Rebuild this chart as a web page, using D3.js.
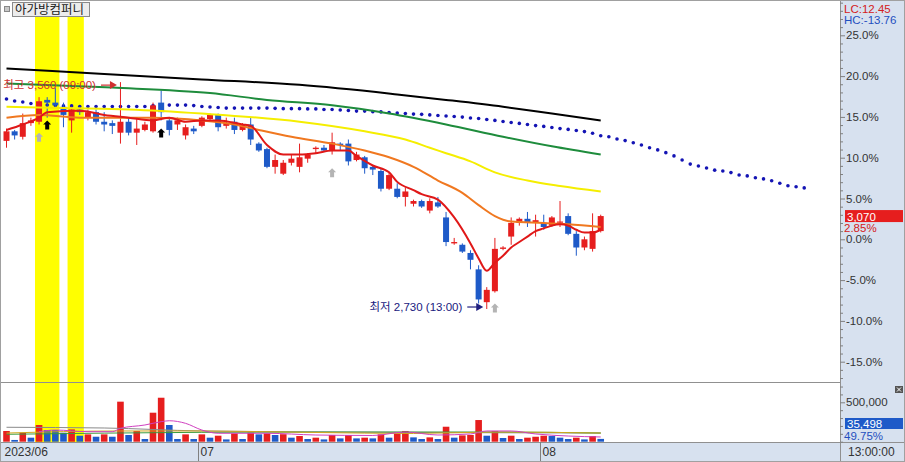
<!DOCTYPE html>
<html><head><meta charset="utf-8">
<script src="https://cdn.jsdelivr.net/npm/d3@7"></script>
<style>body{margin:0;background:#fff}svg{display:block}</style>
</head><body><svg id="c" width="905" height="462"></svg>
<script>
// ---------- data ----------
const stockName = "아가방컴퍼니";
const basePrice = 2985;
const openP  = [3345,3380,3360,3410,3415,3495,3485,3470,3420,3460,3430,3450,3415,3410,3375,3415,3375,3385,3380,3485,3420,3405,3365,3390,3400,3425,3440,3400,3415,3385,3405,3335,3315,3250,3225,3265,3250,3280,3315,3320,3310,3335,3335,3275,3285,3250,3235,3170,3170,3140,3115,3125,3090,3120,3065,2970,2965,2935,2875,2755,2795,2950,2995,3045,3060,3045,3045,3035,3050,3070,3005,2955,2950,3015];
const highP  = [3390,3385,3445,3430,3505,3505,3540,3485,3470,3470,3460,3460,3450,3420,3560,3430,3425,3415,3485,3530,3430,3430,3405,3400,3435,3445,3445,3430,3430,3410,3430,3340,3320,3295,3275,3295,3335,3300,3325,3330,3375,3340,3350,3305,3290,3255,3245,3230,3190,3175,3130,3130,3135,3140,3085,2990,2970,2945,2890,2810,2990,2960,3065,3065,3085,3075,3075,3070,3125,3080,3015,2995,3080,3075];
const lowP   = [3320,3350,3350,3400,3405,3430,3465,3395,3375,3440,3420,3405,3380,3370,3335,3365,3330,3380,3375,3420,3365,3385,3350,3370,3395,3420,3380,3390,3370,3380,3330,3305,3245,3225,3220,3255,3230,3265,3300,3305,3295,3310,3255,3270,3225,3220,3160,3165,3135,3105,3105,3100,3080,3100,2960,2965,2935,2875,2750,2730,2790,2945,2965,3035,3030,2995,3020,3030,3030,3000,2925,2945,2940,3010];
const closeP = [3380,3365,3410,3420,3490,3485,3475,3440,3460,3450,3450,3415,3405,3400,3415,3375,3390,3405,3475,3450,3385,3420,3395,3380,3430,3440,3395,3410,3385,3405,3350,3310,3250,3275,3265,3280,3285,3295,3320,3310,3340,3330,3270,3295,3245,3240,3170,3220,3140,3160,3125,3105,3125,3105,2975,2975,2940,2910,2765,2800,2950,2955,3045,3060,3045,3055,3030,3065,3050,3005,2955,2985,3015,3070];
const volumes = [136000,22000,114000,51000,212000,148000,146000,114000,156000,76000,93000,63000,93000,63000,508000,85000,136000,34000,368000,558000,212000,34000,93000,34000,93000,51000,76000,29000,105000,34000,114000,93000,105000,85000,95000,51000,72000,34000,51000,29000,85000,42000,85000,42000,51000,42000,93000,51000,105000,136000,55000,34000,55000,34000,190000,51000,80000,85000,275000,76000,136000,47000,76000,34000,51000,63000,76000,72000,51000,34000,51000,29000,71353,35498];
// leading span (plotted 25 bars ahead)
const leadSpan = [3498,3491,3487,3482,3478,3476,3474,3473,3473,3471,3471,3471,3471,3471,3471,3471,3471,3471,3474,3476,3476,3476,3476,3474,3471,3469,3467,3465,3465,3465,3465,3465,3465,3464,3463,3463,3463,3462,3462,3460,3460,3458,3456,3454,3454,3452,3451,3449,3447,3445,3443,3442,3440,3438,3436,3434,3432,3429,3427,3423,3420,3416,3412,3409,3405,3401,3398,3394,3390,3387,3383,3379,3373,3364,3360,3352,3346,3338,3330,3320,3312,3302,3290,3275,3260,3253,3246,3238,3235,3229,3220,3217,3210,3206,3199,3190,3181,3177,3173];
// moving averages: [bar index, price]
const ma5   = [[0,3385],[2,3405],[4,3430],[5,3450],[9,3455],[12,3440],[15,3430],[18,3420],[20,3430],[22,3415],[24,3420],[26,3420],[29,3405],[30,3400],[32,3330],[34,3295],[36,3295],[38,3300],[40,3310],[42,3310],[43,3290],[45,3255],[47,3230],[48,3195],[50,3165],[51,3150],[53,3130],[55,3065],[57,2970],[58,2915],[59,2870],[60,2900],[61,2925],[62,2955],[63,2975],[64,2995],[65,3015],[66,3025],[67,3035],[68,3040],[69,3035],[70,3020],[71,3010],[72,3010],[73,3020]];
const ma20  = [[0,3430],[4,3440],[9,3430],[18,3430],[24,3420],[28,3405],[31,3385],[35,3360],[40,3335],[44,3310],[47,3285],[50,3250],[53,3200],[56,3155],[58,3110],[60,3070],[62,3050],[66,3045],[69,3040],[73,3030]];
const ma60  = [[0,3470],[7,3465],[15,3460],[24,3445],[36,3415],[44,3380],[49,3350],[52,3320],[54,3300],[57,3270],[60,3230],[64,3200],[68,3180],[73,3160]];
const ma120 = [[0,3555],[13,3540],[25,3520],[32,3495],[40,3475],[47,3445],[54,3405],[61,3360],[67,3325],[73,3295]];
const ma240 = [[0,3610],[12,3590],[24,3570],[36,3550],[48,3515],[54,3495],[61,3470],[67,3445],[73,3420]];
// volume moving averages: [bar index, volume]
const vma5   = [[4,127000],[6,148000],[10,127000],[13,127000],[14,170000],[17,212000],[19,254000],[20,266000],[22,233000],[24,148000],[26,107000],[32,107000],[38,85000],[45,79000],[49,123000],[53,85000],[57,98000],[59,136000],[62,136000],[65,98000],[69,72000],[73,60000]];
const vma20  = [[0,110000],[14,136000],[24,136000],[38,117000],[50,104000],[60,123000],[73,110000]];
const vma60  = [[0,94000],[24,119000],[40,123000],[60,123000],[73,110000]];
const vma120 = [[0,183000],[12,174000],[24,136000],[40,123000],[73,110000]];
// highlights, signals, labels
const bandStart = [4,8], bandEnd = [6,9];
const grayArrowIdx = [4,40,60], grayArrowAt = [3375,3245,2750];
const blackArrowIdx = [5,19], blackArrowAt = [3420,3390];
const highTime = "09:00", lowTime = "13:00";
const pctTicks = [25,20,15,10,5,0,-5,-10,-15];
const volTicks = [500000];
const xLabelIdx = [0,24,66], xLabels = ["2023/06","07","08"];
const lastTime = "13:00:00";

// ---------- layout ----------
const svg = d3.select("#c");
const plotR = 840, mainTop = 2, mainBot = 382, volTop = 383, volBot = 442;
const FONT = '"Liberation Sans","Noto Sans CJK KR",Arial,sans-serif';
const n = closeP.length;
const x = d3.scaleBand().domain(d3.range(leadSpan.length)).range([2.43, 2.43 + leadSpan.length*8.14]);
const cx = i => x(i) + x.bandwidth()/2;
const y = d3.scaleLinear().domain([-15,25]).range([361.7,35.3]);
const py = p => y((p/basePrice - 1)*100);
const vy = d3.scaleLinear().domain([0,500000]).range([441.7,402.3]);
const RED = "#e61e1e", BLUE = "#1e5ac8";

// backgrounds
svg.append("rect").attr("x",0).attr("y",0).attr("width",905).attr("height",462).attr("fill","#fff");
svg.append("rect").attr("x",plotR).attr("y",0).attr("width",905-plotR).attr("height",462).attr("fill","#d7e1ef");
svg.append("rect").attr("x",0).attr("y",volBot).attr("width",905).attr("height",462-volBot).attr("fill","#d7e1ef");

// highlight bands
bandStart.forEach((s,k)=>{
  svg.append("rect").attr("x",x(s)).attr("y",mainTop).attr("width",x(bandEnd[k])+x.step()-x(s))
    .attr("height",volBot-mainTop).attr("fill","#ffff00");
});

const clip = svg.append("defs").append("clipPath").attr("id","pc");
clip.append("rect").attr("x",0).attr("y",mainTop).attr("width",plotR).attr("height",mainBot-mainTop);
const main = svg.append("g").attr("clip-path","url(#pc)");

// leading span dots
main.append("g").selectAll("circle").data(leadSpan).join("circle")
  .attr("cx",(d,i)=>cx(i)).attr("cy",d=>py(d)).attr("r",1.8).attr("fill","#1414b4");

// candles
const bw = 6;
const cg = main.append("g");
d3.range(n).forEach(i=>{
  const up = closeP[i] >= openP[i];
  const col = up ? RED : BLUE;
  cg.append("line").attr("x1",cx(i)).attr("x2",cx(i)).attr("y1",py(highP[i])).attr("y2",py(lowP[i]))
    .attr("stroke",col).attr("stroke-width",1);
  const t = py(Math.max(openP[i],closeP[i])), b = py(Math.min(openP[i],closeP[i]));
  cg.append("rect").attr("x",cx(i)-bw/2).attr("y",t).attr("width",bw).attr("height",Math.max(1.2,b-t)).attr("fill",col);
});

// moving average lines
const pline = d3.line().x(d=>cx(d[0])).y(d=>py(d[1])).curve(d3.curveMonotoneX);
[[ma240,"#000000"],[ma120,"#1e8c3c"],[ma60,"#f5ee00"],[ma20,"#f07820"],[ma5,"#e01818"]].forEach(([d,c])=>{
  main.append("path").attr("d",pline(d)).attr("fill","none").attr("stroke",c).attr("stroke-width",2);
});

// signal arrows
function upArrow(g,xc,top,fill){
  g.append("path").attr("d",`M${xc},${top} L${xc+4},${top+4} L${xc+2},${top+4} L${xc+2},${top+9} L${xc-2},${top+9} L${xc-2},${top+4} L${xc-4},${top+4} Z`).attr("fill",fill);
}
grayArrowIdx.forEach((i,k)=>upArrow(main,cx(i),py(grayArrowAt[k]),"#b4b4b4"));
blackArrowIdx.forEach((i,k)=>upArrow(main,cx(i),py(blackArrowAt[k]),"#000"));

// high / low labels
const hiVal = d3.max(highP), hiIdx = highP.indexOf(hiVal);
const loVal = d3.min(lowP), loIdx = lowP.indexOf(loVal);
function marker(idx,val,txt,col,dy){
  const tip = cx(idx) - bw/2 - 0.5, yy = py(val) + dy;
  main.append("text").attr("x",tip-21).attr("y",yy+4).attr("text-anchor","end")
    .attr("font-family",FONT).attr("font-size",11.5).attr("fill",col).text(txt);
  main.append("line").attr("x1",tip-16).attr("x2",tip-5).attr("y1",yy).attr("y2",yy).attr("stroke",col).attr("stroke-width",1.2);
  main.append("path").attr("d",`M${tip},${yy} L${tip-7},${yy-4} L${tip-7},${yy+4} Z`).attr("fill",col);
}
marker(hiIdx,hiVal,`최고 ${d3.format(",")(hiVal)} (${highTime})`,"#d03030",3);
marker(loIdx,loVal,`최저 ${d3.format(",")(loVal)} (${lowTime})`,"#202080",-2);

// volume bars
const vg = svg.append("g");
d3.range(n).forEach(i=>{
  const col = (i===0 || volumes[i] > volumes[i-1]) ? RED : BLUE;
  vg.append("rect").attr("x",cx(i)-bw/2-0.3).attr("y",vy(volumes[i])).attr("width",bw+0.6)
    .attr("height",vy(0)-vy(volumes[i])).attr("fill",col);
});
const vline = d3.line().x(d=>cx(d[0])).y(d=>vy(d[1])).curve(d3.curveMonotoneX);
[[vma120,"#8a8a8a"],[vma60,"#3c9c3c"],[vma20,"#d0a820"],[vma5,"#d040c0"]].forEach(([d,c])=>{
  vg.append("path").attr("d",vline(d)).attr("fill","none").attr("stroke",c).attr("stroke-width",1);
});

// frame / separators
svg.append("line").attr("x1",0).attr("x2",plotR).attr("y1",mainBot+0.5).attr("y2",mainBot+0.5).attr("stroke","#909090");
svg.append("line").attr("x1",0).attr("x2",905).attr("y1",volBot+0.5).attr("y2",volBot+0.5).attr("stroke","#909090");
svg.append("line").attr("x1",plotR+0.5).attr("x2",plotR+0.5).attr("y1",0).attr("y2",462).attr("stroke","#909090");
svg.append("rect").attr("x",0.5).attr("y",0.5).attr("width",904).attr("height",461).attr("fill","none").attr("stroke","#a0a0a0");

// right percent axis
const minor = d3.range(-17,30).filter(v=>!pctTicks.includes(v));
const ax1 = svg.append("g").attr("transform",`translate(${plotR},0)`)
  .call(d3.axisRight(y).tickValues(minor).tickSize(3).tickFormat(""));
const ax2 = svg.append("g").attr("transform",`translate(${plotR},0)`)
  .call(d3.axisRight(y).tickValues(pctTicks).tickSize(5).tickPadding(1).tickFormat(d=>d.toFixed(1)+"%"));
// volume axis
const vminor = d3.range(0,800000,100000).filter(v=>!volTicks.includes(v));
const ax3 = svg.append("g").attr("transform",`translate(${plotR},0)`)
  .call(d3.axisRight(vy).tickValues(vminor).tickSize(3).tickFormat(""));
const ax4 = svg.append("g").attr("transform",`translate(${plotR},0)`)
  .call(d3.axisRight(vy).tickValues(volTicks).tickSize(5).tickPadding(1).tickFormat(d3.format(",")));
[ax1,ax2,ax3,ax4].forEach(a=>{
  a.select(".domain").remove();
  a.selectAll("line").attr("stroke","#808080");
  a.selectAll("text").attr("font-family",FONT).attr("font-size",11.5).attr("fill","#333");
});

// right side info
function rtext(t,yy,col,size){
  svg.append("text").attr("x",844).attr("y",yy).attr("font-family",FONT).attr("font-size",size||11.5).attr("fill",col).text(t);
}
const last = closeP[n-1];
rtext(`LC:${((last/loVal-1)*100).toFixed(2)}`,13,"#d42020");
rtext(`HC:${((last/hiVal-1)*100).toFixed(2)}`,24,"#1f4fbf");
svg.append("rect").attr("x",845).attr("y",py(last)-6).attr("width",58).attr("height",12).attr("fill","#e61e1e");
svg.append("text").attr("x",847).attr("y",py(last)+4.5).attr("font-family",FONT).attr("font-size",11.5).attr("fill","#fff").text(d3.format(",")(last));
rtext(`${((last/basePrice-1)*100).toFixed(2)}%`,py(last)+16,"#d42020");
const lv = volumes[n-1];
svg.append("rect").attr("x",845).attr("y",418).attr("width",58).attr("height",11).attr("fill","#1e5ac8");
svg.append("text").attr("x",847).attr("y",428).attr("font-family",FONT).attr("font-size",11.5).attr("fill","#fff").text(d3.format(",")(lv));
rtext(`${(lv/volumes[n-2]*100).toFixed(2)}%`,440,"#1f4fbf");
// close box
svg.append("rect").attr("x",895).attr("y",386).attr("width",8).attr("height",7).attr("fill","#555");
svg.append("path").attr("d","M897,387.5 L901,391.5 M901,387.5 L897,391.5").attr("stroke","#fff").attr("stroke-width",1);

// bottom time axis
xLabelIdx.forEach((i,k)=>{
  const xx = Math.round(x(i)) + 0.5;
  if (i>0) svg.append("line").attr("x1",xx).attr("x2",xx).attr("y1",volBot).attr("y2",461).attr("stroke","#808080");
  svg.append("text").attr("x",xx+2).attr("y",456).attr("font-family",FONT).attr("font-size",12).attr("fill","#333").text(xLabels[k]);
});
svg.append("text").attr("x",848).attr("y",456).attr("font-family",FONT).attr("font-size",12).attr("fill","#333").text(lastTime);

// title button
svg.append("rect").attr("x",4.5).attr("y",6.5).attr("width",5).attr("height",5).attr("fill","#c8c8c8").attr("stroke","#888");
svg.append("rect").attr("x",12.5).attr("y",2.5).attr("width",77).attr("height",14).attr("fill","#ececec").attr("stroke","#8a8a8a");
svg.append("text").attr("x",15).attr("y",14).attr("font-family",'"Noto Sans CJK KR",sans-serif').attr("font-size",12.5).attr("fill","#222").text(stockName);
</script></body></html>
